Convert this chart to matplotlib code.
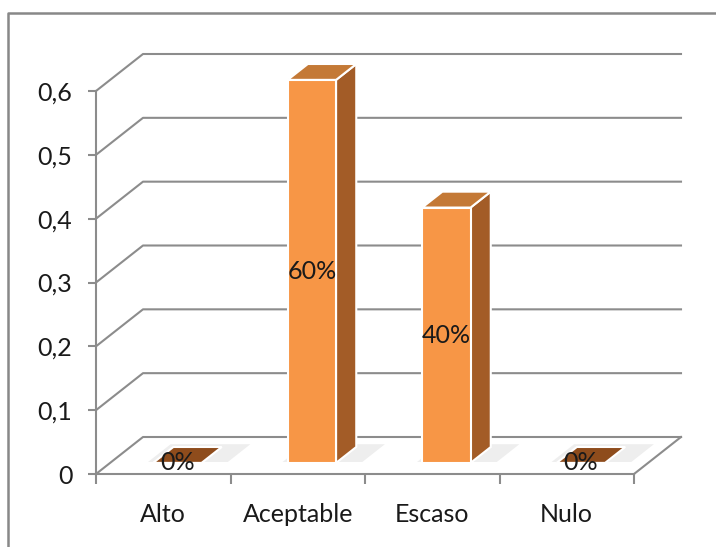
import matplotlib
matplotlib.use('Agg')
import matplotlib.pyplot as plt
from matplotlib.patches import Polygon
from matplotlib.lines import Line2D

categories = ['Alto', 'Aceptable', 'Escaso', 'Nulo']
values = [0.0, 0.6, 0.4, 0.0]
value_labels = ['0%', '60%', '40%', '0%']
yticks = [0, 0.1, 0.2, 0.3, 0.4, 0.5, 0.6]
ytick_labels = ['0', '0,1', '0,2', '0,3', '0,4', '0,5', '0,6']

plt.rcParams['font.family'] = ['Lato', 'DejaVu Sans']

W, H = 716, 547
grid_color = '#8c8c8c'
text_color = '#1a1a1a'
front_color = '#f79646'
side_color = '#a35c27'
top_color = '#c47936'
flat_color = '#8e4c1c'
fsize = 18

fig = plt.figure(figsize=(W / 100, H / 100), dpi=100)
ax = fig.add_axes([96 / W, 1 - 474 / H, (634 - 96) / W, (474 - 91) / H])
ax.set_xlim(-0.5, len(categories) - 0.5)
ax.set_ylim(0, 0.6)

# depth of the 3d box, in inches (right, up)
DX, DY = 0.47, 0.37
p0 = ax.transData.transform((0, 0))
p1 = ax.transData.transform((1, 1))
ddx = DX * fig.dpi / (p1[0] - p0[0])
ddy = DY * fig.dpi / (p1[1] - p0[1])


def pt(x, v, f):
    return (x + f * ddx, v + f * ddy)


x0, x1 = ax.get_xlim()

# back wall gridlines
for v in yticks:
    xs, ys = zip(pt(x0, v, 0), pt(x0, v, 1), pt(x1, v, 1))
    ax.plot(xs, ys, color=grid_color, lw=1.5, clip_on=False, zorder=1)
xs, ys = zip(pt(x1, 0, 0), pt(x1, 0, 1))
ax.plot(xs, ys, color=grid_color, lw=1.5, clip_on=False, zorder=1)

# bars
bw = 0.36
f0, f1 = 0.3, 0.73
for i, v in enumerate(values):
    l, r = i - bw / 2, i + bw / 2
    # soft shadow on the floor
    shadow = [pt(l - 0.08, 0, f0 - 0.05), pt(r + 0.22, 0, f0 - 0.05),
              pt(r + 0.22, 0, f1 + 0.15), pt(l - 0.08, 0, f1 + 0.15)]
    ax.add_patch(Polygon(shadow, closed=True, facecolor='#eeeeee', edgecolor='white',
                         lw=4, clip_on=False, zorder=2))
    if v == 0:
        top = [pt(l, 0, f0), pt(r, 0, f0), pt(r, 0, f1), pt(l, 0, f1)]
        ax.add_patch(Polygon(top, closed=True, facecolor=flat_color, edgecolor='white',
                             lw=1.5, clip_on=False, zorder=3))
    else:
        side = [pt(r, 0, f0), pt(r, 0, f1), pt(r, v, f1), pt(r, v, f0)]
        top = [pt(l, v, f0), pt(r, v, f0), pt(r, v, f1), pt(l, v, f1)]
        front = [pt(l, 0, f0), pt(r, 0, f0), pt(r, v, f0), pt(l, v, f0)]
        ax.add_patch(Polygon(side, closed=True, facecolor=side_color, edgecolor='white',
                             lw=1.5, clip_on=False, zorder=3))
        ax.add_patch(Polygon(top, closed=True, facecolor=top_color, edgecolor='white',
                             lw=1.5, clip_on=False, zorder=3))
        ax.add_patch(Polygon(front, closed=True, facecolor=front_color, edgecolor='white',
                             lw=1.5, clip_on=False, zorder=4))
    tx, ty = pt(i, v / 2, f0)
    ax.text(tx, ty, value_labels[i], ha='center', va='center', fontsize=fsize,
            color=text_color, zorder=5)

# axes
for s in ['top', 'right']:
    ax.spines[s].set_visible(False)
for s in ['left', 'bottom']:
    ax.spines[s].set_color(grid_color)
    ax.spines[s].set_linewidth(1.5)
ax.spines['bottom'].set_zorder(6)
ax.set_yticks(yticks)
ax.set_yticklabels(ytick_labels)
ax.tick_params(axis='y', length=6, width=1.5, color=grid_color, pad=11,
               labelsize=fsize, labelcolor=text_color)
ax.set_xticks(range(len(categories)))
ax.set_xticklabels(categories)
ax.set_xticks([i - 0.5 for i in range(len(categories) + 1)], minor=True)
ax.tick_params(axis='x', which='major', length=0, pad=21, labelsize=fsize,
               labelcolor=text_color)
ax.tick_params(axis='x', which='minor', length=7, width=1.5, color=grid_color)
ax.patch.set_visible(False)

# outer chart border
fig.add_artist(Line2D([8 / W, 8 / W, 1], [0, 1 - 13 / H, 1 - 13 / H],
                      transform=fig.transFigure, color='#888888', lw=1.8))

fig.savefig('out.png', dpi=100)
